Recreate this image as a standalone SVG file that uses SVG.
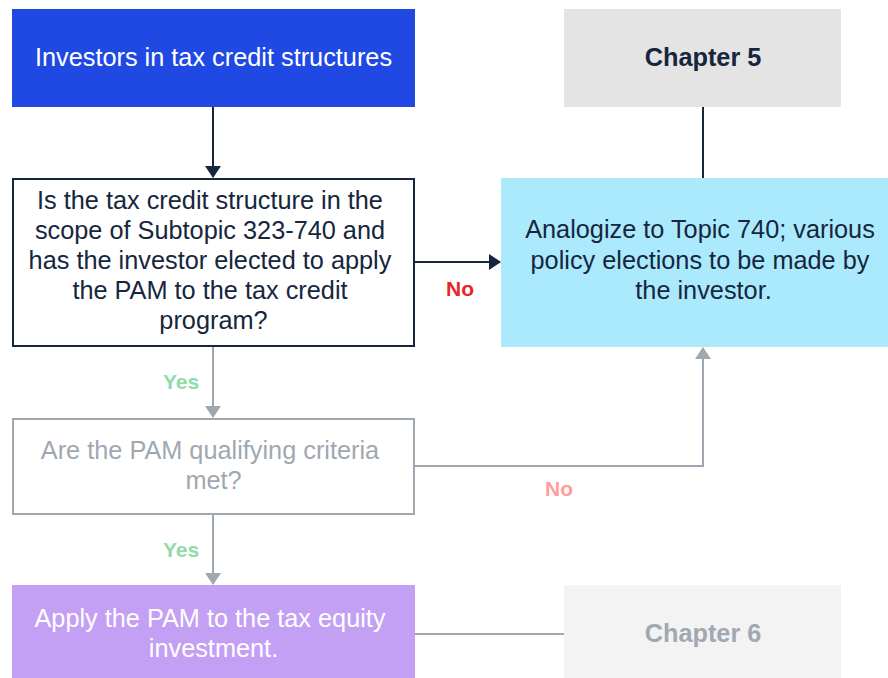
<svg xmlns="http://www.w3.org/2000/svg" width="888" height="678" viewBox="0 0 888 678">
  <style>
    text { font-family: "Liberation Sans", Arial, sans-serif; text-anchor: middle; }
    .t { font-size: 25.3px; }
    .b { font-size: 25.3px; font-weight: bold; }
    .lbl { font-size: 21px; font-weight: bold; }
    .dark { stroke: #15263d; stroke-width: 2; fill: none; }
    .grey { stroke: #9fa8b1; stroke-width: 2; fill: none; }
  </style>
  <defs>
    <marker id="ahDark" markerWidth="12" markerHeight="16" refX="11" refY="8" orient="auto" markerUnits="userSpaceOnUse" viewBox="0 0 12 16">
      <path d="M0,0 L12,8 L0,16 z" fill="#15263d"/>
    </marker>
    <marker id="ahGrey" markerWidth="12" markerHeight="16" refX="11" refY="8" orient="auto" markerUnits="userSpaceOnUse" viewBox="0 0 12 16">
      <path d="M0,0 L12,8 L0,16 z" fill="#9fa8b1"/>
    </marker>
  </defs>

  <rect width="888" height="678" fill="#ffffff"/>

  <g id="connectors">
    <line class="dark" x1="213" y1="107" x2="213" y2="177" marker-end="url(#ahDark)"/>
    <line class="dark" x1="703" y1="107" x2="703" y2="178"/>
    <line class="dark" x1="415" y1="262" x2="500" y2="262" marker-end="url(#ahDark)"/>
    <line class="grey" x1="213" y1="347" x2="213" y2="417" marker-end="url(#ahGrey)"/>
    <polyline class="grey" points="415,466 703,466 703,348" marker-end="url(#ahGrey)"/>
    <line class="grey" x1="213" y1="515" x2="213" y2="584" marker-end="url(#ahGrey)"/>
    <line class="grey" x1="415" y1="634" x2="565" y2="634"/>
    <text class="lbl" x="460" y="296" fill="#e8262a">No</text>
    <text class="lbl" x="181" y="389" fill="#8fdcab">Yes</text>
    <text class="lbl" x="559" y="496" fill="#ff9c9c">No</text>
    <text class="lbl" x="181" y="557" fill="#8fdcab">Yes</text>
  </g>

  <g id="investors">
    <rect x="12" y="9" width="403" height="98" fill="#2049e3"/>
    <text class="t" x="213.5" y="66" fill="#ffffff">Investors in tax credit structures</text>
  </g>

  <g id="chapter5">
    <rect x="564" y="9" width="277" height="98" fill="#e4e4e4"/>
    <text class="b" x="703" y="66" fill="#15263d">Chapter 5</text>
  </g>

  <g id="scope-question">
    <rect x="13" y="179" width="401" height="167" fill="#ffffff" stroke="#15263d" stroke-width="2"/>
    <text class="t" fill="#15263d">
      <tspan x="213.5" y="209">Is the tax credit structure in the</tspan>
      <tspan x="213.5" y="239">scope of Subtopic 323-740 and</tspan>
      <tspan x="213.5" y="269">has the investor elected to apply</tspan>
      <tspan x="213.5" y="299">the PAM to the tax credit</tspan>
      <tspan x="213.5" y="329">program?</tspan>
    </text>
  </g>

  <g id="analogize">
    <rect x="501" y="178" width="387" height="169" fill="#abe9fd"/>
    <text class="t" fill="#15263d">
      <tspan x="703.5" y="238">Analogize to Topic 740; various</tspan>
      <tspan x="703.5" y="269">policy elections to be made by</tspan>
      <tspan x="703.5" y="299">the investor.</tspan>
    </text>
  </g>

  <g id="pam-criteria">
    <rect x="13" y="419" width="401" height="95" fill="#ffffff" stroke="#9fa8b1" stroke-width="2"/>
    <text class="t" fill="#9fa8b1">
      <tspan x="213.5" y="459">Are the PAM qualifying criteria</tspan>
      <tspan x="213.5" y="489">met?</tspan>
    </text>
  </g>

  <g id="apply-pam">
    <rect x="12" y="585" width="403" height="93" fill="#c4a0f4"/>
    <text class="t" fill="#ffffff">
      <tspan x="213.5" y="627">Apply the PAM to the tax equity</tspan>
      <tspan x="213.5" y="657">investment.</tspan>
    </text>
  </g>

  <g id="chapter6">
    <rect x="564" y="585" width="277" height="93" fill="#f3f3f3"/>
    <text class="b" x="703" y="642" fill="#a0a9b2">Chapter 6</text>
  </g>
</svg>
